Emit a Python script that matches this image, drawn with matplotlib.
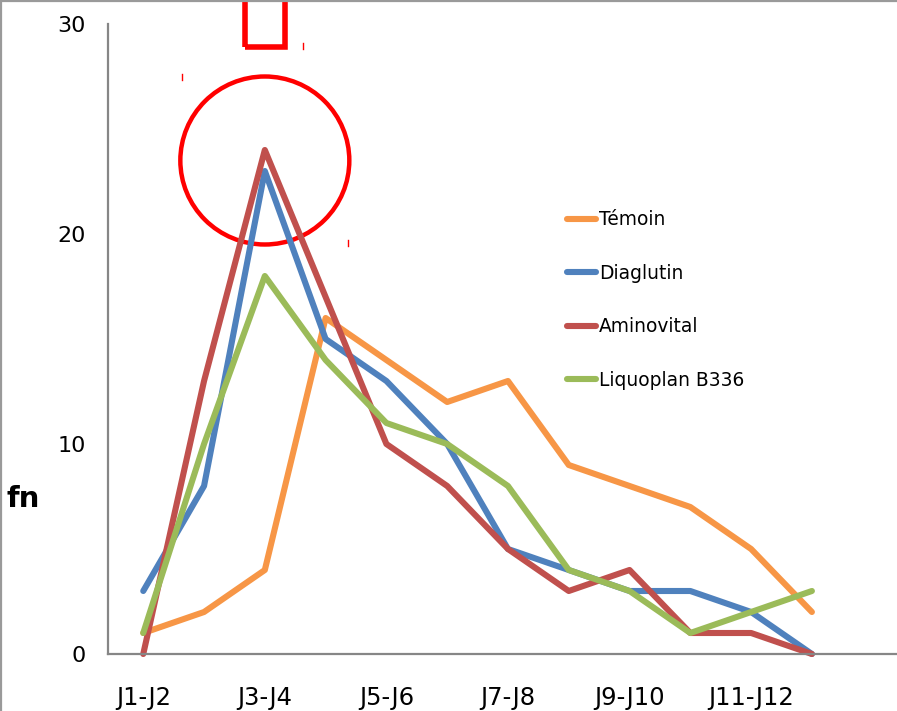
import matplotlib
matplotlib.use("Agg")
import matplotlib.pyplot as plt
from matplotlib.patches import Ellipse, Rectangle
from matplotlib.lines import Line2D

# Periodes (une categorie sur deux est etiquetee)
periodes = ["J1-J2", "J2-J3", "J3-J4", "J4-J5", "J5-J6", "J6-J7",
            "J7-J8", "J8-J9", "J9-J10", "J10-J11", "J11-J12", "J12-J13"]

temoin = [1, 2, 4, 16, 14, 12, 13, 9, 8, 7, 5, 2]
diaglutin = [3, 8, 23, 15, 13, 10, 5, 4, 3, 3, 2, 0]
aminovital = [0, 13, 24, 17, 10, 8, 5, 3, 4, 1, 1, 0]
liquoplan = [1, 10, 18, 14, 11, 10, 8, 4, 3, 1, 2, 3]

series = ["Témoin", "Diaglutin", "Aminovital", "Liquoplan B336"]
couleurs = ["#F79646", "#4F81BD", "#C0504D", "#9BBB59"]
y_ticks = [0, 10, 20, 30]

W, H = 897, 711
fig = plt.figure(figsize=(W / 100, H / 100), dpi=100)
ax = fig.add_axes([108 / W, 57 / H, (W - 108) / W, 630 / H])

x = list(range(len(periodes)))
for vals, nom, c in zip([temoin, diaglutin, aminovital, liquoplan], series, couleurs):
    ax.plot(x, vals, color=c, lw=4.4, label=nom, solid_capstyle="round",
            solid_joinstyle="round", clip_on=False)

ax.set_xlim(-0.58, 12.4)
ax.set_ylim(0, 30)
ax.set_yticks(y_ticks)
ax.set_yticklabels([str(v) for v in y_ticks], fontsize=16)
ax.set_xticks(x[::2])
ax.set_xticklabels(periodes[::2], fontsize=17.5)
ax.tick_params(length=0)
ax.tick_params(axis="y", pad=16)
ax.tick_params(axis="x", pad=23)
for s in ["top", "right"]:
    ax.spines[s].set_visible(False)
for s in ["left", "bottom"]:
    ax.spines[s].set_color("#868686")
    ax.spines[s].set_linewidth(1.6)

leg = ax.legend(loc="upper left", bbox_to_anchor=((560 - 108) / (W - 108), (654 - 203) / 630),
                frameon=False, fontsize=13.4, handlelength=1.55, handletextpad=0.15,
                labelspacing=1.85, borderaxespad=0)

# annotations rouges autour du pic
ax.add_patch(Ellipse((2.0, 23.5), 2.78, 8.0, fill=False, ec="#FF0000", lw=3.2, clip_on=False))
ax.add_patch(Rectangle((1.68, 28.9), 0.66, 2.5, fill=False, ec="#FF0000", lw=4.0, clip_on=False))
for px, py in [(182, 77), (303, 46), (348, 243)]:
    fig.add_artist(Line2D([px / W, px / W], [1 - (py - 3) / H, 1 - (py + 3) / H],
                          color="#FF0000", lw=1.0))

# titre de l'axe y
fig.text(23 / W, 1 - 499 / H, "fn", fontsize=21, fontweight="heavy",
         ha="center", va="center")

# bordure du cadre
fig.add_artist(Line2D([0.5 / W, 0.5 / W], [0, 1], color="#9a9a9a", lw=1.6))
fig.add_artist(Line2D([0, 1], [1 - 0.5 / H, 1 - 0.5 / H], color="#9a9a9a", lw=1.6))

fig.savefig("out.png", dpi=100)
